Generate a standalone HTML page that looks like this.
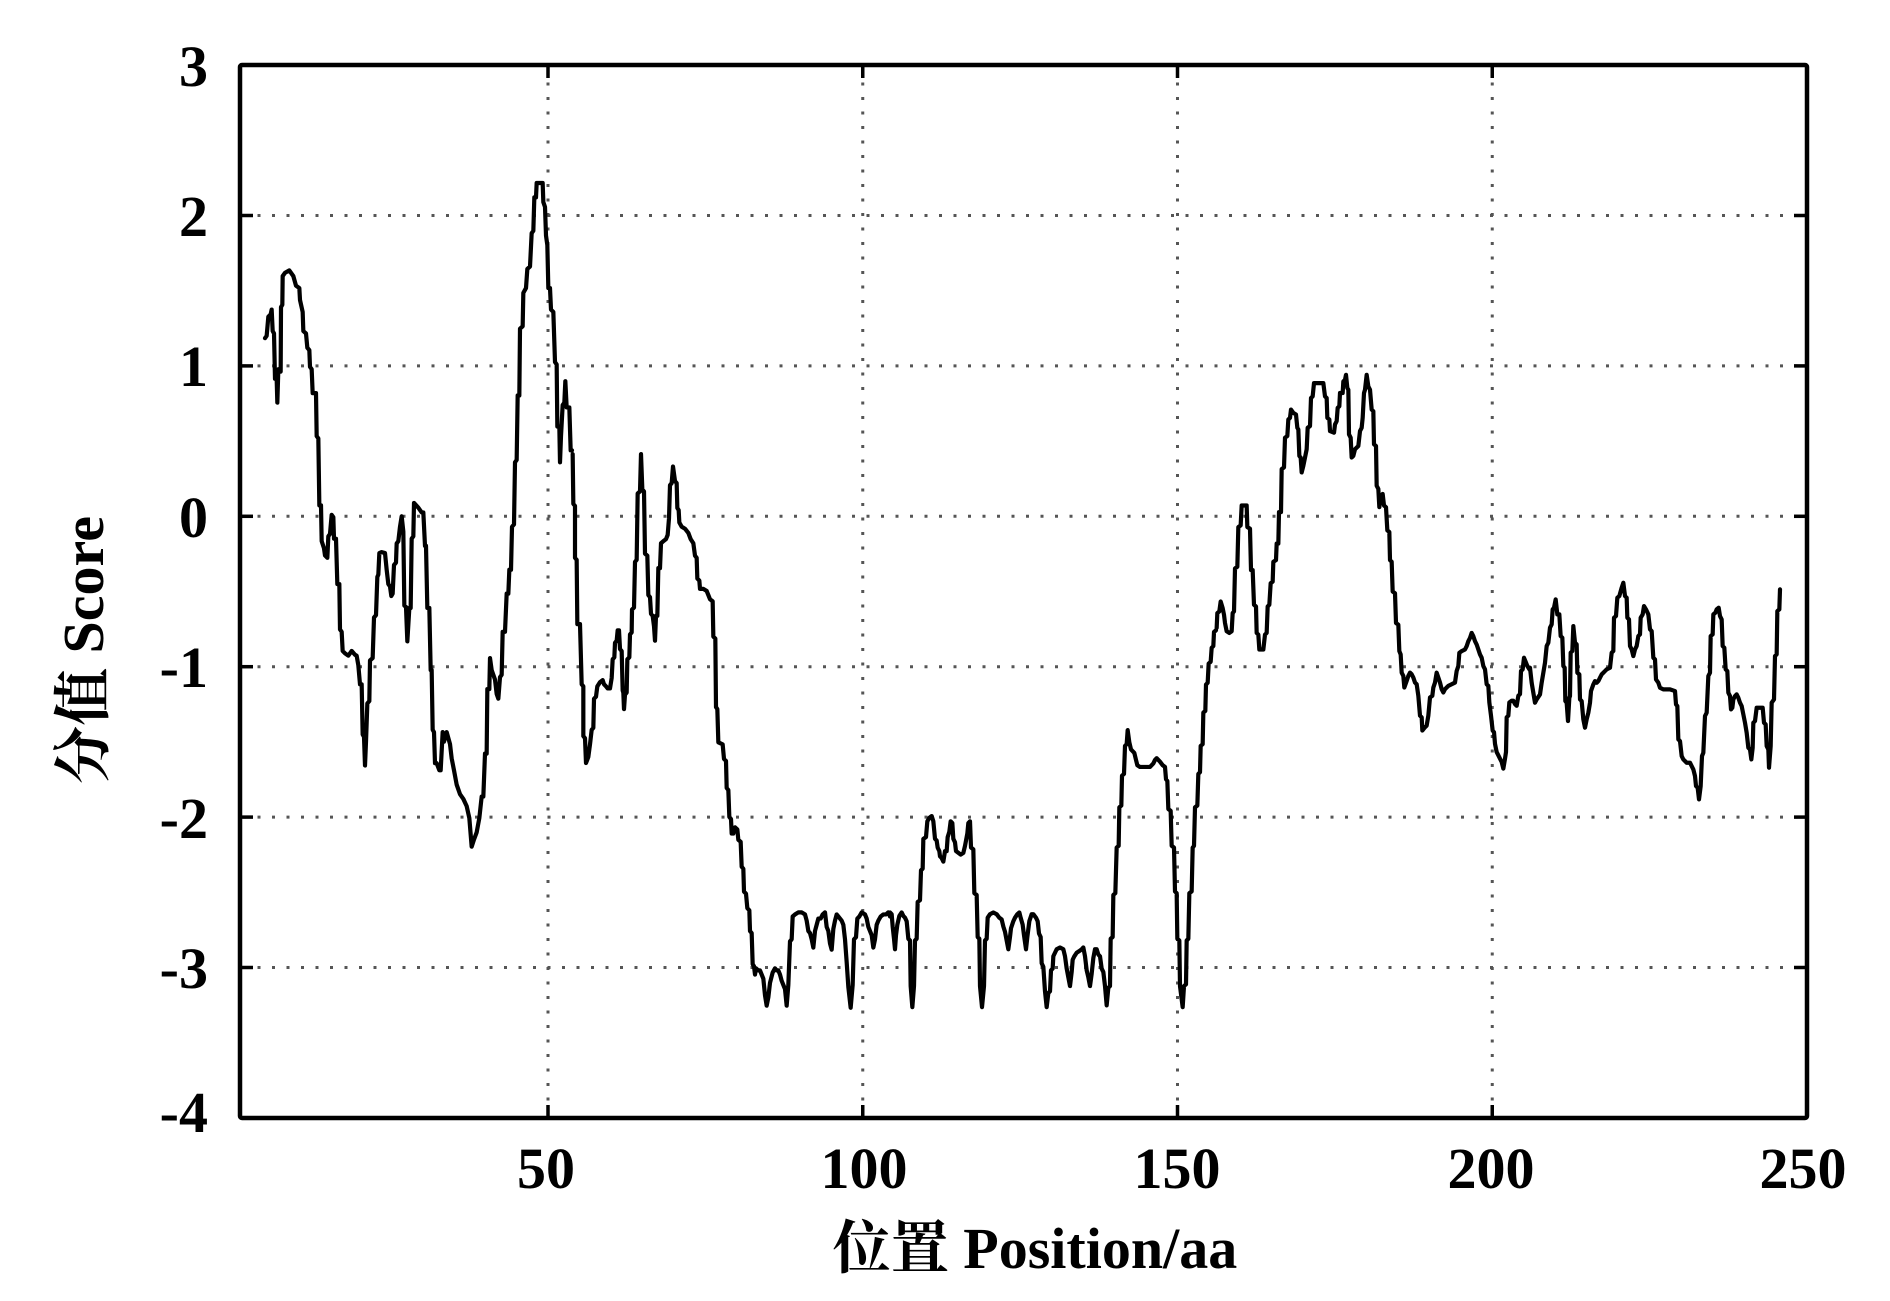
<!DOCTYPE html>
<html>
<head>
<meta charset="utf-8">
<style>
  html, body { margin: 0; padding: 0; background: #ffffff; }
  svg { display: block; }
  .tick { font-family: "Liberation Serif", "Noto Serif CJK SC", serif; font-size: 58px; font-weight: bold; fill: #000; }
  .lab { font-family: "Liberation Serif", "Noto Serif CJK SC", serif; font-size: 58px; font-weight: bold; fill: #000; }
  .grid { stroke: #555; stroke-width: 3; stroke-dasharray: 3 11.5; fill: none; }
  .ser { fill: none; stroke: #000; stroke-width: 4.2; stroke-linejoin: round; stroke-linecap: round; }
</style>
</head>
<body>
<svg width="1890" height="1301" viewBox="0 0 1890 1301" xmlns="http://www.w3.org/2000/svg">
  <rect x="0" y="0" width="1890" height="1301" fill="#ffffff"/>

  <!-- Grid lines -->
  <g class="grid">
    <line x1="548" y1="68" x2="548" y2="1115"/>
    <line x1="862.75" y1="68" x2="862.75" y2="1115"/>
    <line x1="1177.5" y1="68" x2="1177.5" y2="1115"/>
    <line x1="1492.25" y1="68" x2="1492.25" y2="1115"/>
    <line x1="243" y1="215.5" x2="1804" y2="215.5"/>
    <line x1="243" y1="365.9" x2="1804" y2="365.9"/>
    <line x1="243" y1="516.3" x2="1804" y2="516.3"/>
    <line x1="243" y1="666.7" x2="1804" y2="666.7"/>
    <line x1="243" y1="817.1" x2="1804" y2="817.1"/>
    <line x1="243" y1="967.5" x2="1804" y2="967.5"/>
  </g>

  <!-- Series -->
  <g transform="translate(250,149.6) scale(0.333333,0.47746)">
    <polyline class="ser" vector-effect="non-scaling-stroke" points="45,395 50,390 55,350 62,345 65,335 68,380 72,385 75,480 80,480 82,530 85,460 92,465 93,330 97,325 98,265 105,258 118,253 130,265 138,285 148,290 150,315 158,340 160,380 168,385 172,415 178,420 180,455 185,460 188,510 198,510 200,600 205,605 208,745 213,745 215,820 222,835 225,850 232,855 235,810 240,805 245,765 250,770 252,815 258,815 262,910 268,910 270,1005 275,1010 278,1050 285,1055 295,1060 305,1050 315,1058 320,1060 325,1080 330,1120 335,1120 338,1225 342,1230 345,1290 348,1240 352,1160 358,1155 360,1070 368,1065 372,980 378,975 382,895 385,890 388,845 395,843 405,845 410,880 415,910 420,915 424,935 428,930 432,870 438,865 440,825 445,820 450,790 455,768 460,800 463,955 468,958 472,1030 478,960 482,960 485,815 490,810 492,740 505,750 515,760 520,760 525,830 528,830 532,960 538,960 542,1090 545,1090 548,1215 552,1220 555,1285 560,1285 568,1300 572,1300 578,1220 582,1240 590,1220 600,1245 605,1275 612,1300 620,1330 630,1350 640,1360 650,1375 658,1400 665,1460 672,1445 680,1430 688,1400 695,1355 700,1355 705,1265 710,1265 712,1130 718,1130 720,1065 725,1090 730,1100 735,1110 740,1140 745,1150 750,1105 755,1100 758,1010 765,1010 770,930 775,930 778,880 783,880 786,790 792,785 795,655 800,650 803,515 808,515 810,375 818,370 820,300 828,290 832,250 840,245 845,175 850,170 853,100 858,100 860,70 868,70 878,70 880,110 885,120 888,180 892,200 895,290 900,290 903,335 910,340 915,445 920,450 922,580 928,580 930,655 933,600 938,535 943,530 946,485 950,540 958,540 962,630 966,630"/>
  </g>
  <g transform="translate(570,400.18) scale(0.333333,0.41471)">
    <polyline class="ser" vector-effect="non-scaling-stroke" points="8,130 10,250 15,255 15,380 20,385 22,540 30,540 35,685 40,690 40,810 45,815 48,875 55,860 60,830 65,795 70,790 72,720 78,715 82,690 90,680 98,675 102,685 108,690 113,695 120,695 125,670 128,625 133,620 135,585 140,580 143,555 147,555 150,600 155,605 158,700 160,705 162,745 165,710 170,705 172,625 178,620 180,565 185,560 186,505 192,500 195,390 200,385 203,225 210,220 213,130 217,215 222,220 225,370 232,375 235,470 240,475 243,515 248,520 252,545 255,580 258,520 262,520 265,405 270,405 273,345 280,340 288,335 293,325 297,285 300,205 305,200 309,160 315,195 320,200 322,260 326,265 328,295 335,305 345,310 355,320 362,335 370,345 375,375 380,380 382,430 388,435 390,455 400,455 410,460 415,470 420,480 428,485 430,570 436,575 438,740 442,745 445,825 458,830 462,865 468,870 470,935 475,940 478,1005 483,1010 485,1045 490,1045 495,1030 502,1035 505,1060 512,1065 515,1125 520,1130 522,1185 528,1190 532,1225 538,1230 540,1280 545,1285 548,1360 552,1365 555,1385 558,1370 565,1375 570,1375 575,1385 580,1395 585,1435 590,1460 595,1440 600,1405 608,1380 615,1370 620,1375 625,1375 630,1385 635,1400 640,1410 645,1420 650,1460 655,1410 660,1305 665,1300 668,1245 675,1240 685,1235 695,1235 705,1240 710,1255 715,1280 720,1285 725,1300 730,1320 735,1280 740,1265 745,1250 752,1250 758,1240 765,1235 770,1270 775,1280 780,1310 785,1325 790,1275 795,1255 800,1240 805,1245 810,1250 815,1255 820,1265 825,1300 830,1355 835,1415 842,1465 848,1410 852,1300 858,1295 862,1250 868,1245 875,1235 885,1240 890,1250 895,1270 905,1290 910,1320 915,1300 920,1265 925,1255 932,1245 940,1240 948,1240 955,1235 960,1245"/>
  </g>
  <g transform="translate(890,500.52) scale(0.333333,0.35058)">
    <polyline class="ser" vector-effect="non-scaling-stroke" points="0,1175 5,1180 8,1215 12,1250 15,1280 18,1240 22,1210 28,1185 35,1175 40,1185 45,1190 50,1200 55,1250 60,1255 62,1385 67,1445 72,1385 75,1255 80,1250 83,1145 90,1140 93,1055 98,1050 100,965 108,960 112,915 118,905 125,900 130,915 135,965 140,970 143,990 148,1000 150,1015 155,1020 160,1030 165,1000 170,1000 173,960 178,945 182,915 187,920 190,965 195,975 198,1000 205,1005 212,1010 220,1005 225,985 228,970 232,950 235,920 240,915 243,990 250,995 253,1120 260,1125 263,1245 268,1250 270,1385 276,1445 282,1385 285,1255 290,1250 293,1190 300,1180 310,1175 320,1180 328,1190 335,1195 340,1215 345,1230 350,1255 355,1280 360,1245 363,1220 370,1200 375,1190 382,1180 388,1175 392,1190 398,1210 402,1240 408,1280 412,1245 418,1200 425,1180 430,1180 438,1190 443,1200 447,1235 452,1245 455,1320 460,1330 465,1400 470,1445 475,1405 480,1400 483,1340 488,1335 490,1300 495,1290 500,1280 510,1275 520,1280 525,1300 530,1335 535,1360 540,1385 545,1345 548,1310 553,1300 560,1290 568,1285 575,1280 580,1275 585,1300 590,1340 595,1360 600,1385 605,1350 610,1305 615,1280 620,1280 625,1295 630,1300 635,1335 640,1345 645,1385 650,1440 655,1390 660,1385 662,1250 668,1245 670,1125 676,1120 680,990 686,985 688,875 694,870 696,785 702,780 705,700 710,695 713,655 718,690 723,710 728,715 733,720 738,740 742,755 750,760 760,760 770,760 780,760 790,750 795,740 800,735 805,740 810,745 818,755 825,760 828,795 832,800 835,880 842,885 845,985 852,990 855,1115 860,1120 862,1250 868,1255 870,1385 878,1445 882,1385 888,1380 890,1255 895,1250 898,1120 905,1115 908,990 912,985 915,875 922,870 925,780 930,775 932,700 938,695 940,605 946,600 948,525 953,520 956,465 962,460 965,420 970,415 972,375 978,370"/>
  </g>
  <g transform="translate(1210,331.8) scale(0.333333,0.33091)">
    <polyline class="ser" vector-effect="non-scaling-stroke" points="20,895 22,850 28,845 32,815 38,835 42,855 45,880 50,905 58,910 65,905 68,850 72,845 75,715 82,710 85,590 92,585 95,525 110,525 112,590 120,595 123,720 128,720 132,825 138,830 140,910 145,915 148,960 160,960 165,915 170,910 173,830 178,825 182,760 188,755 190,695 198,690 200,640 205,640 207,545 213,545 215,415 222,410 225,320 232,315 235,265 240,260 243,235 250,245 258,250 262,290 265,295 268,375 272,380 275,425 280,405 285,380 290,355 293,290 300,285 303,200 308,195 312,155 340,155 345,195 350,200 352,260 358,265 360,300 372,305 375,280 380,270 383,230 388,225 390,185 398,185 400,150 405,145 408,130 412,170 415,175 417,310 422,320 425,380 430,375 435,355 440,350 445,345 450,300 455,290 458,260 462,185 465,175 470,130 475,165 480,175 485,235 490,240 492,340 498,345 500,465 505,475 508,530 512,500 518,490 522,525 528,530 532,600 538,605 540,690 545,695 548,785 555,790 558,880 565,885 568,965 572,975 575,1030 580,1040 583,1075 590,1055 595,1040 600,1030 605,1035 610,1045 615,1060 620,1065 625,1100 630,1160 635,1165 637,1205 645,1195 650,1190 655,1160 660,1105 667,1100 670,1075 675,1060 680,1030 685,1045 690,1060 695,1080 700,1090 705,1080 710,1075 715,1070 725,1065 735,1060 740,1025 745,1010 748,970 755,965 765,960 770,950 775,935 780,925 785,910 790,920 795,935 800,945 805,960 810,975 815,985 820,1010 825,1020 830,1065 835,1070 838,1120 843,1160 848,1205 852,1210 855,1245 860,1270 865,1280 870,1290 875,1300 880,1320 885,1290 888,1270 890,1165 895,1160 898,1120 905,1115 910,1115 915,1125 920,1130 925,1100 930,1095 933,1025 938,1020 942,985 948,1000 952,1010 958,1020"/>
  </g>
  <g transform="translate(1530,539.4) scale(0.333333,0.333333)">
    <polyline class="ser" vector-effect="non-scaling-stroke" points="0,385 5,430 10,460 15,490 20,480 30,465 35,430 40,400 45,370 50,320 55,310 60,265 65,255 68,210 72,205 77,180 82,225 88,225 92,290 97,295 100,380 104,385 106,485 110,490 114,545 118,475 120,470 122,340 127,335 130,260 135,310 140,315 142,400 148,405 150,480 155,485 160,540 165,565 170,540 175,520 180,490 183,455 190,435 195,425 200,430 205,425 210,415 215,405 220,400 225,395 230,390 240,385 245,340 250,335 252,235 258,230 262,175 268,170 275,145 280,130 285,170 290,175 292,235 297,240 300,320 305,330 310,350 315,330 320,320 325,290 330,285 332,235 338,225 342,200 348,210 355,225 360,270 365,275 370,355 375,360 378,420 385,430 390,445 400,450 410,450 420,450 435,455 438,495 442,500 445,600 450,605 455,650 460,660 470,670 480,670 490,690 495,710 498,740 503,745 507,780 512,740 516,650 520,640 525,530 530,520 535,410 540,400 542,290 548,285 550,225 556,220 560,210 566,205 570,230 575,240 578,320 583,325 587,390 592,395 595,460 600,470 603,510 607,505 610,480 615,470 620,465 625,475 630,490 635,500 640,525 645,550 650,580 655,625 660,630 664,660 668,625 670,550 675,545 680,505 690,505 698,505 702,550 707,555 710,620 715,630 717,685 722,620 725,490 732,480 735,350 740,345 742,215 748,210 750,150"/>
  </g>

  <!-- Ticks -->
  <g stroke="#000" stroke-width="3.5">
    <line x1="548" y1="1118" x2="548" y2="1105"/>
    <line x1="862.75" y1="1118" x2="862.75" y2="1105"/>
    <line x1="1177.5" y1="1118" x2="1177.5" y2="1105"/>
    <line x1="1492.25" y1="1118" x2="1492.25" y2="1105"/>
    <line x1="548" y1="65" x2="548" y2="78"/>
    <line x1="862.75" y1="65" x2="862.75" y2="78"/>
    <line x1="1177.5" y1="65" x2="1177.5" y2="78"/>
    <line x1="1492.25" y1="65" x2="1492.25" y2="78"/>
    <line x1="240" y1="215.5" x2="253" y2="215.5"/>
    <line x1="240" y1="365.9" x2="253" y2="365.9"/>
    <line x1="240" y1="516.3" x2="253" y2="516.3"/>
    <line x1="240" y1="666.7" x2="253" y2="666.7"/>
    <line x1="240" y1="817.1" x2="253" y2="817.1"/>
    <line x1="240" y1="967.5" x2="253" y2="967.5"/>
    <line x1="1807" y1="215.5" x2="1794" y2="215.5"/>
    <line x1="1807" y1="365.9" x2="1794" y2="365.9"/>
    <line x1="1807" y1="516.3" x2="1794" y2="516.3"/>
    <line x1="1807" y1="666.7" x2="1794" y2="666.7"/>
    <line x1="1807" y1="817.1" x2="1794" y2="817.1"/>
    <line x1="1807" y1="967.5" x2="1794" y2="967.5"/>
  </g>

  <!-- Axes box -->
  <rect x="240" y="65" width="1567" height="1053" fill="none" stroke="#000" stroke-width="4.5" rx="2"/>

  <!-- Y tick labels -->
  <g class="tick" text-anchor="end">
    <text x="208" y="86">3</text>
    <text x="208" y="236">2</text>
    <text x="208" y="386">1</text>
    <text x="208" y="537">0</text>
    <text x="208" y="687">-1</text>
    <text x="208" y="838">-2</text>
    <text x="208" y="988">-3</text>
    <text x="208" y="1132">-4</text>
  </g>

  <!-- X tick labels -->
  <g class="tick" text-anchor="middle">
    <text x="546" y="1188">50</text>
    <text x="864" y="1188">100</text>
    <text x="1177" y="1188">150</text>
    <text x="1491" y="1188">200</text>
    <text x="1803" y="1188">250</text>
  </g>

  <!-- Axis labels -->
  <text class="lab" x="1035" y="1268" text-anchor="middle">位置 Position/aa</text>
  <text class="lab" transform="translate(103,650) rotate(-90)" text-anchor="middle">分值 Score</text>
</svg>
</body>
</html>
